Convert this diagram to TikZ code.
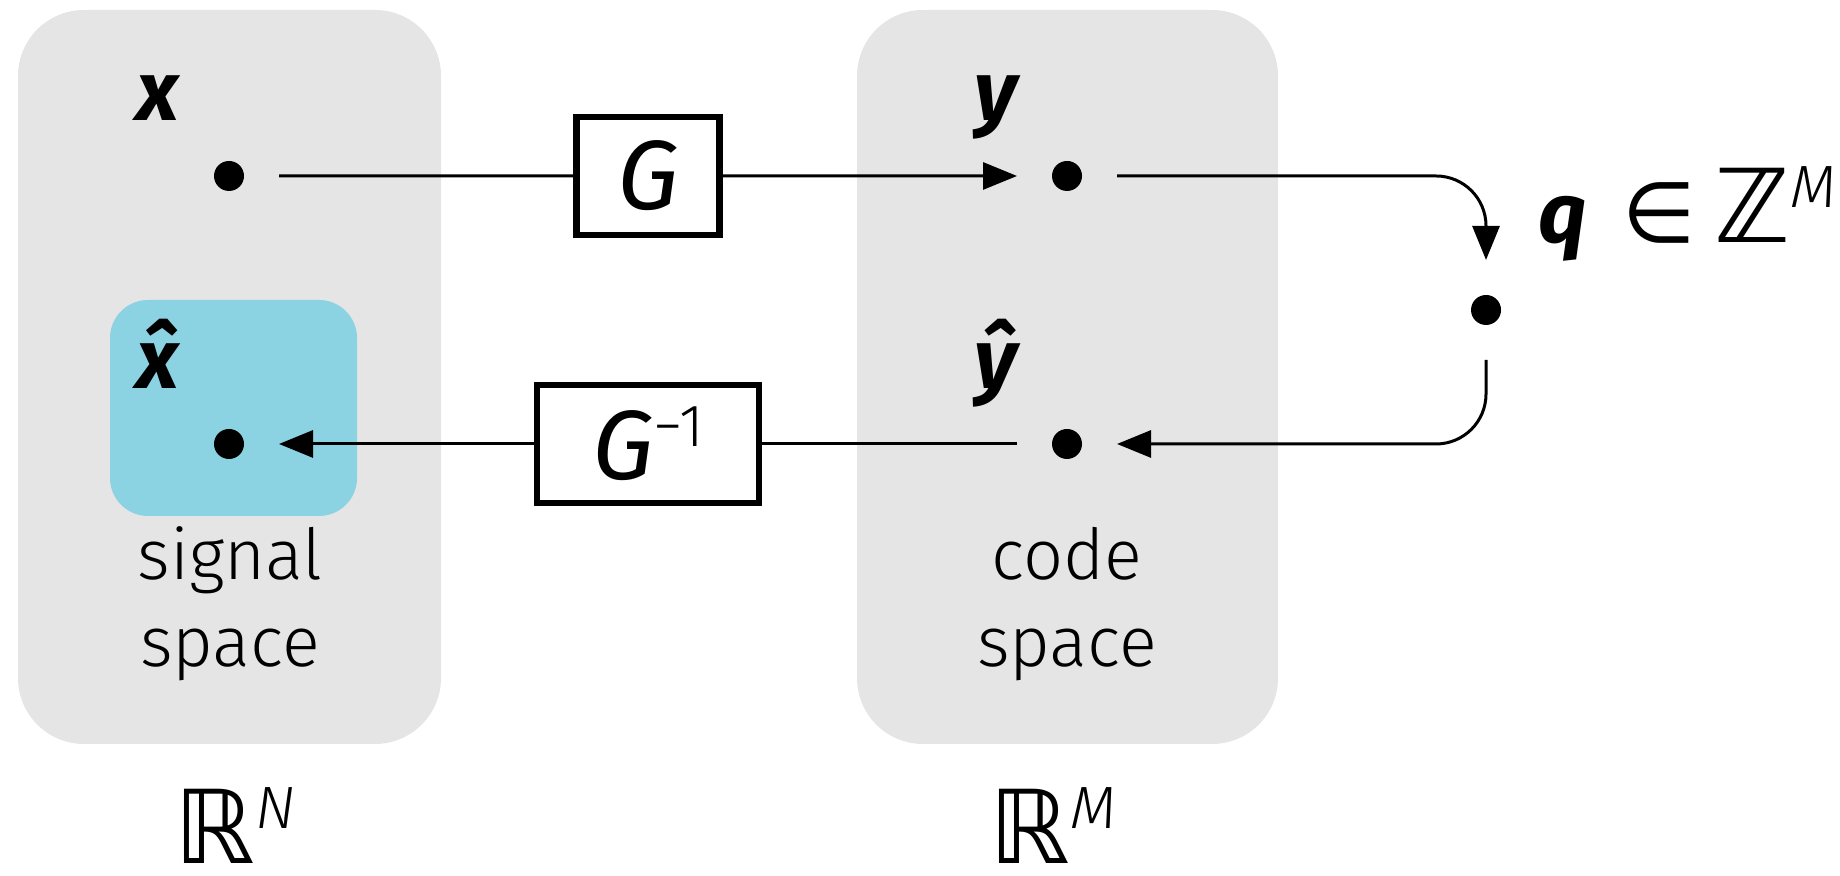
\documentclass[tikz,border=0pt]{standalone}
\usepackage{fontspec}
\setmainfont{Fira Sans Light}[BoldFont={Fira Sans Bold}, ItalicFont={Fira Sans Light Italic}, BoldItalicFont={Fira Sans Bold Italic}]
\newfontfamily\bbfont{DejaVu Sans}
\newfontface\opfont{Fira Sans Italic}
\usetikzlibrary{arrows.meta, positioning, calc}
\definecolor{spacegray}{HTML}{E5E5E5}
\definecolor{recblue}{HTML}{8BD2E3}
\newcommand{\vsym}[1]{{\bfseries\itshape #1}}
\newcommand{\dimsup}[1]{\raisebox{10pt}{\fontsize{17}{19}\selectfont #1}}

\begin{document}
\begin{tikzpicture}[font=\fontsize{24}{28}\selectfont, line width=0.85pt,
	vecdot/.style={circle, fill, inner sep=0pt, minimum size=0.3cm, outer sep=0.35cm},
	spacebox/.style={fill=spacegray, rounded corners=0.66cm, inner sep=0pt, minimum height=7.34cm},
	opbox/.style={draw, line width=1.9pt, fill=white, inner sep=0pt, minimum height=1.18cm, font=\fontsize{28}{32}\selectfont},
	arr/.style={-{Triangle[length=3.4mm, width=2.7mm]}},
	lbl/.style={inner sep=0pt, anchor=base},
	spacetxt/.style={font=\fontsize{20}{25}\selectfont, align=center, anchor=base, inner sep=0pt}]
	\useasboundingbox (0,0) rectangle (18.4,8.76);
	% the two spaces
	\node[spacebox, minimum width=4.23cm] (signal) at (2.295,4.99) {};
	\node[spacebox, minimum width=4.21cm] (code) at (10.675,4.99) {};
	\node[fill=recblue, rounded corners=0.38cm, inner sep=0pt, minimum width=2.47cm, minimum height=2.16cm] (recon) at (2.335,4.68) {};
	% points
	\node[vecdot] (xpt) at (2.29,7.0) {};
	\node[vecdot] (ypt) at (10.67,7.0) {};
	\node[vecdot] (xhat) at (2.29,4.32) {};
	\node[vecdot] (yhat) at (10.67,4.32) {};
	\node[vecdot] (qpt) at (14.86,5.66) {};
	\node[lbl] (xlbl) at ([shift={(-0.71,0.55)}]xpt.center) {\vsym{x}};
	\node[lbl] (ylbl) at ([shift={(-0.71,0.55)}]ypt.center) {\vsym{y}};
	\node[lbl] (xhatlbl) at ([shift={(-0.71,0.55)}]xhat.center) {\vsym{\^{x}}};
	\node[lbl] (yhatlbl) at ([shift={(-0.71,0.55)}]yhat.center) {\vsym{\^{y}}};
	\node[lbl, anchor=base west] (qlbl) at ([shift={(0.51,0.67)}]qpt.center) {\vsym{q}\hspace{0.42em}{\bbfont ∈}\hspace{0.22em}{\bbfont\fontsize{29}{32}\selectfont ℤ}\dimsup{\itshape M}};
	% operators
	\node[opbox, minimum width=1.43cm] (G) at ($(xpt)!0.5!(ypt)$) {\opfont G};
	\node[opbox, minimum width=2.22cm] (Ginv) at ($(xhat)!0.5!(yhat)$) {{\opfont G}\raisebox{9.5pt}{\fontsize{17}{19}\selectfont −1}};
	% captions
	\node[spacetxt] (sigtxt) at (2.30,2.09) {signal\\space};
	\node[spacetxt] (codetxt) at (10.67,2.09) {code\\space};
	\node[lbl] (rn) at (2.35,0.12) {{\bbfont\fontsize{29}{32}\selectfont ℝ}\dimsup{\itshape N}};
	\node[lbl] (rm) at (10.53,0.12) {{\bbfont\fontsize{29}{32}\selectfont ℝ}\dimsup{\itshape M}};
	% connectors
	\draw (xpt) -- (G);
	\draw[arr] (G) -- (ypt);
	\draw[arr, rounded corners=0.5cm] (ypt) -| (qpt);
	\draw[arr, rounded corners=0.5cm] (qpt) |- (yhat);
	\draw (yhat) -- (Ginv);
	\draw[arr] (Ginv) -- (xhat);
\end{tikzpicture}
\end{document}
